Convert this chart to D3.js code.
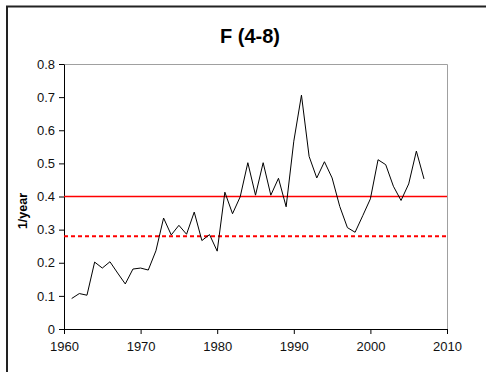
<!DOCTYPE html>
<html><head><meta charset="utf-8">
<script src="https://cdn.jsdelivr.net/npm/d3@7"></script>
<style>body{margin:0;background:#fff}svg{display:block;font-family:Arial,"Liberation Sans",sans-serif}</style>
</head><body><svg id="c" width="486" height="372"></svg>
<script>
const years = [1961,1962,1963,1964,1965,1966,1967,1968,1969,1970,1971,1972,1973,1974,1975,1976,1977,1978,1979,1980,1981,1982,1983,1984,1985,1986,1987,1988,1989,1990,1991,1992,1993,1994,1995,1996,1997,1998,1999,2000,2001,2002,2003,2004,2005,2006,2007];
const fValues = [0.092,0.107,0.102,0.202,0.184,0.203,0.169,0.136,0.181,0.184,0.178,0.236,0.335,0.284,0.313,0.286,0.353,0.267,0.285,0.235,0.413,0.348,0.399,0.502,0.404,0.502,0.404,0.455,0.369,0.567,0.706,0.521,0.456,0.505,0.456,0.37,0.306,0.292,0.342,0.393,0.511,0.496,0.431,0.388,0.438,0.537,0.453];
const refLines = [0.4, 0.28];
const yTicks = [0,0.1,0.2,0.3,0.4,0.5,0.6,0.7,0.8];
const xTicks = [1960,1970,1980,1990,2000,2010];
const title = "F (4-8)";
const yLabel = "1/year";

const svg = d3.select("#c");
// outer frame
svg.append("rect").attr("x",7).attr("y",6.5).attr("width",500).attr("height",400)
  .attr("fill","none").attr("stroke","#222").attr("stroke-width",2);

const L=64, R=447, T=64, B=329;
const x = d3.scaleLinear().domain([1960,2010]).range([L,R]);
const y = d3.scaleLinear().domain([0,0.8]).range([B,T]);

// plot border top/right gray
svg.append("path").attr("d",`M${L},${T+0.5}H${R+0.5}V${B}`).attr("fill","none").attr("stroke","#a0a0a0").attr("stroke-width",1);

const ya = svg.append("g").attr("transform",`translate(${L},0)`)
  .call(d3.axisLeft(y).tickValues(yTicks).tickFormat(d=>d===0?"0":d3.format(".1f")(d)).tickSize(5).tickSizeOuter(0));
const xa = svg.append("g").attr("transform",`translate(0,${B})`)
  .call(d3.axisBottom(x).tickValues(xTicks).tickFormat(d3.format("d")).tickSize(5).tickSizeOuter(0));
[ya,xa].forEach(g=>{
  g.selectAll("path,line").attr("stroke","#000");
  g.selectAll("text").attr("font-size","13px").attr("fill","#111").attr("font-family","Arial,'Liberation Sans',sans-serif");
});
ya.selectAll("text").attr("dx","-1");
xa.selectAll("text").attr("dy","1.05em");

// reference lines
svg.append("line").attr("x1",L).attr("x2",R).attr("y1",y(refLines[0])).attr("y2",y(refLines[0]))
  .attr("stroke","#ff0000").attr("stroke-width",1.3);
svg.append("line").attr("x1",L).attr("x2",R).attr("y1",y(refLines[1])).attr("y2",y(refLines[1]))
  .attr("stroke","#ff0000").attr("stroke-width",2).attr("stroke-dasharray","4,3");

// series
const line = d3.line().x((d,i)=>x(years[i])).y(d=>y(d));
svg.append("path").datum(fValues).attr("d",line).attr("fill","none").attr("stroke","#000").attr("stroke-width",1);

svg.append("text").attr("x",250).attr("y",43).attr("text-anchor","middle")
  .attr("font-size","20px").attr("font-weight","bold").text(title);
svg.append("text").attr("transform","translate(27,211) rotate(-90)").attr("text-anchor","middle")
  .attr("font-size","12.5px").attr("font-weight","bold").text(yLabel);
</script></body></html>
